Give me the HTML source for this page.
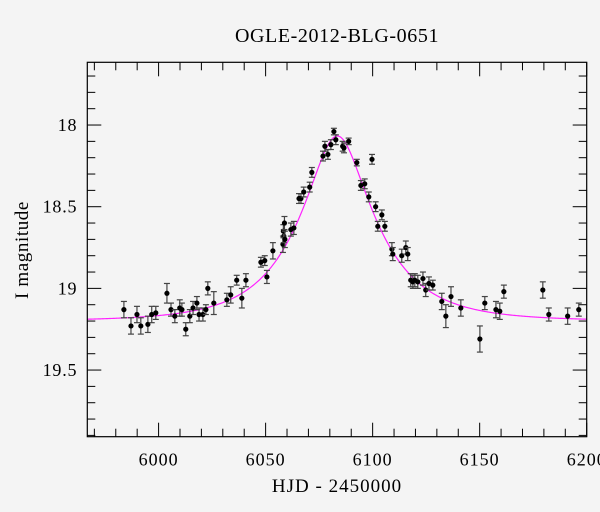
<!DOCTYPE html>
<html><head><meta charset="utf-8">
<style>
html,body{margin:0;padding:0;background:#f4f4f4;}
svg{display:block;font-family:"Liberation Serif",serif;}
</style></head>
<body>
<svg id="chart" width="600" height="512" viewBox="0 0 600 512">
<rect x="0" y="0" width="600" height="512" fill="#f4f4f4"/>
<text x="337" y="42" text-anchor="middle" font-size="20" letter-spacing="0.6" fill="#000">OGLE-2012-BLG-0651</text>
<text x="337" y="492" text-anchor="middle" font-size="19" letter-spacing="1" fill="#000">HJD - 2450000</text>
<text transform="translate(28,250) rotate(-90)" text-anchor="middle" font-size="19" letter-spacing="0.6" fill="#000">I magnitude</text>
<g id="ticks"></g>
<g id="model"></g>
<g id="points"></g>
<rect x="87.3" y="62.3" width="499.4" height="374.4" fill="none" stroke="#000" stroke-width="1.2"/>
</svg>
<script>
const hjd=[5983.8,5987.1,5989.9,5991.7,5995.0,5996.8,5998.7,6003.9,6005.8,6007.6,6009.9,6010.9,6012.7,6014.6,6016.1,6017.9,6018.9,6020.7,6022.1,6023.0,6025.8,6031.9,6033.7,6036.5,6038.9,6040.8,6047.8,6049.6,6050.6,6053.4,6058.1,6058.5,6058.3,6058.8,6059.0,6061.8,6063.2,6065.6,6066.5,6067.8,6070.6,6071.6,6076.8,6077.7,6079.1,6080.5,6081.9,6082.8,6086.0,6086.6,6088.8,6092.6,6094.5,6096.3,6098.2,6099.7,6101.4,6102.4,6104.3,6105.7,6109.0,6109.4,6113.6,6115.5,6116.4,6117.8,6118.8,6119.7,6121.1,6123.5,6124.8,6126.3,6128.1,6132.3,6134.2,6136.6,6141.2,6150.1,6152.4,6157.6,6159.4,6161.3,6179.5,6182.3,6191.1,6196.3];
const mag=[19.13,19.23,19.16,19.23,19.22,19.16,19.15,19.03,19.13,19.17,19.12,19.13,19.25,19.17,19.12,19.09,19.16,19.16,19.13,19.00,19.09,19.07,19.04,18.95,19.06,18.95,18.84,18.83,18.93,18.77,18.73,18.68,18.65,18.60,18.70,18.64,18.63,18.45,18.45,18.41,18.38,18.29,18.19,18.13,18.18,18.12,18.04,18.09,18.13,18.14,18.10,18.23,18.37,18.36,18.44,18.21,18.50,18.62,18.55,18.62,18.76,18.79,18.80,18.75,18.79,18.95,18.96,18.95,18.96,18.94,19.01,18.97,18.98,19.08,19.17,19.05,19.12,19.31,19.09,19.13,19.14,19.02,19.01,19.16,19.17,19.13];
const err=[0.05,0.05,0.05,0.05,0.05,0.05,0.04,0.06,0.04,0.04,0.05,0.04,0.04,0.04,0.04,0.04,0.04,0.04,0.03,0.04,0.07,0.04,0.05,0.03,0.06,0.04,0.03,0.03,0.04,0.05,0.05,0.04,0.04,0.04,0.05,0.04,0.04,0.03,0.03,0.03,0.03,0.03,0.03,0.03,0.03,0.03,0.02,0.03,0.03,0.03,0.02,0.02,0.03,0.03,0.03,0.03,0.03,0.03,0.03,0.03,0.04,0.04,0.04,0.04,0.04,0.04,0.04,0.04,0.04,0.04,0.04,0.04,0.03,0.05,0.07,0.06,0.05,0.08,0.04,0.05,0.05,0.04,0.05,0.04,0.05,0.04];
const xTicks=[6000,6050,6100,6150,6200];
const yTicks=[18,18.5,19,19.5];
const model={t0:6083.5,tE:34,u0:0.37,base:19.2};
const X0=87.3,X1=586.7,Y0=62.3,Y1=436.7;
const xMin=5966.7,xMax=6200,yMin=17.616,yMax=19.908;
const xs=t=>X0+(t-xMin)/(xMax-xMin)*(X1-X0);
const ys=m=>Y0+(m-yMin)/(yMax-yMin)*(Y1-Y0);
const NS='http://www.w3.org/2000/svg';
function mk(tag,attrs,parent){const e=document.createElementNS(NS,tag);for(const k in attrs)e.setAttribute(k,attrs[k]);parent.appendChild(e);return e;}
const tg=document.getElementById('ticks');
for(let v=5970;v<=6200;v+=10){
  const major=(v%50===0);const L=major?14:8;const x=xs(v);
  const t1=mk('line',{x1:x,x2:x,y1:Y1,y2:Y1-L,stroke:'#000','stroke-width':1},tg);
  
  
  const t2=mk('line',{x1:x,x2:x,y1:Y0,y2:Y0+L,stroke:'#000','stroke-width':1},tg);
  
  
}
xTicks.forEach(v=>{
  const t=mk('text',{x:xs(v),y:Y1+29,'text-anchor':'middle','font-size':18,'letter-spacing':1,fill:'#000'},tg);
  t.textContent=String(v);
  
  
});
for(let k=177;k<=199;k++){
  const v=k/10;const major=(k%5===0);const L=major?14:8;const y=ys(v);
  if(y<Y0||y>Y1)continue;
  const t1=mk('line',{x1:X0,x2:X0+L,y1:y,y2:y,stroke:'#000','stroke-width':1},tg);
  
  
  const t2=mk('line',{x1:X1,x2:X1-L,y1:y,y2:y,stroke:'#000','stroke-width':1},tg);
  
  
}
yTicks.forEach(v=>{
  const t=mk('text',{x:X0-10,y:ys(v)+6,'text-anchor':'end','font-size':18,'letter-spacing':0.8,fill:'#000'},tg);
  t.textContent=String(v);
  
  
});
function A(u){return (u*u+2)/(u*Math.sqrt(u*u+4));}
let d='';
for(let px=X0;px<=X1;px+=1){
  const t=xMin+(px-X0)/(X1-X0)*(xMax-xMin);
  const tau=(t-model.t0)/model.tE;const u=Math.sqrt(tau*tau+model.u0*model.u0);
  const m=model.base-2.5*Math.log10(A(u));
  d+=(d?'L':'M')+px.toFixed(1)+','+ys(m).toFixed(2);
}
const mg=document.getElementById('model');
const path=mk('path',{d:d,fill:'none',stroke:'#ff22ff','stroke-width':1.2},mg);


const pg=document.getElementById('points');
hjd.forEach((t,i)=>{
  const x=xs(t),y=ys(mag[i]),ya=ys(mag[i]-err[i]),yb=ys(mag[i]+err[i]);
  const g=mk('g',{},pg);
  
  
  mk('line',{x1:x,x2:x,y1:ya,y2:yb,stroke:'#444','stroke-width':1.2},g);
  mk('line',{x1:x-3,x2:x+3,y1:ya,y2:ya,stroke:'#444','stroke-width':1.2},g);
  mk('line',{x1:x-3,x2:x+3,y1:yb,y2:yb,stroke:'#444','stroke-width':1.2},g);
  mk('circle',{cx:x,cy:y,r:2.6,fill:'#000'},g);
});
</script>
</body></html>
